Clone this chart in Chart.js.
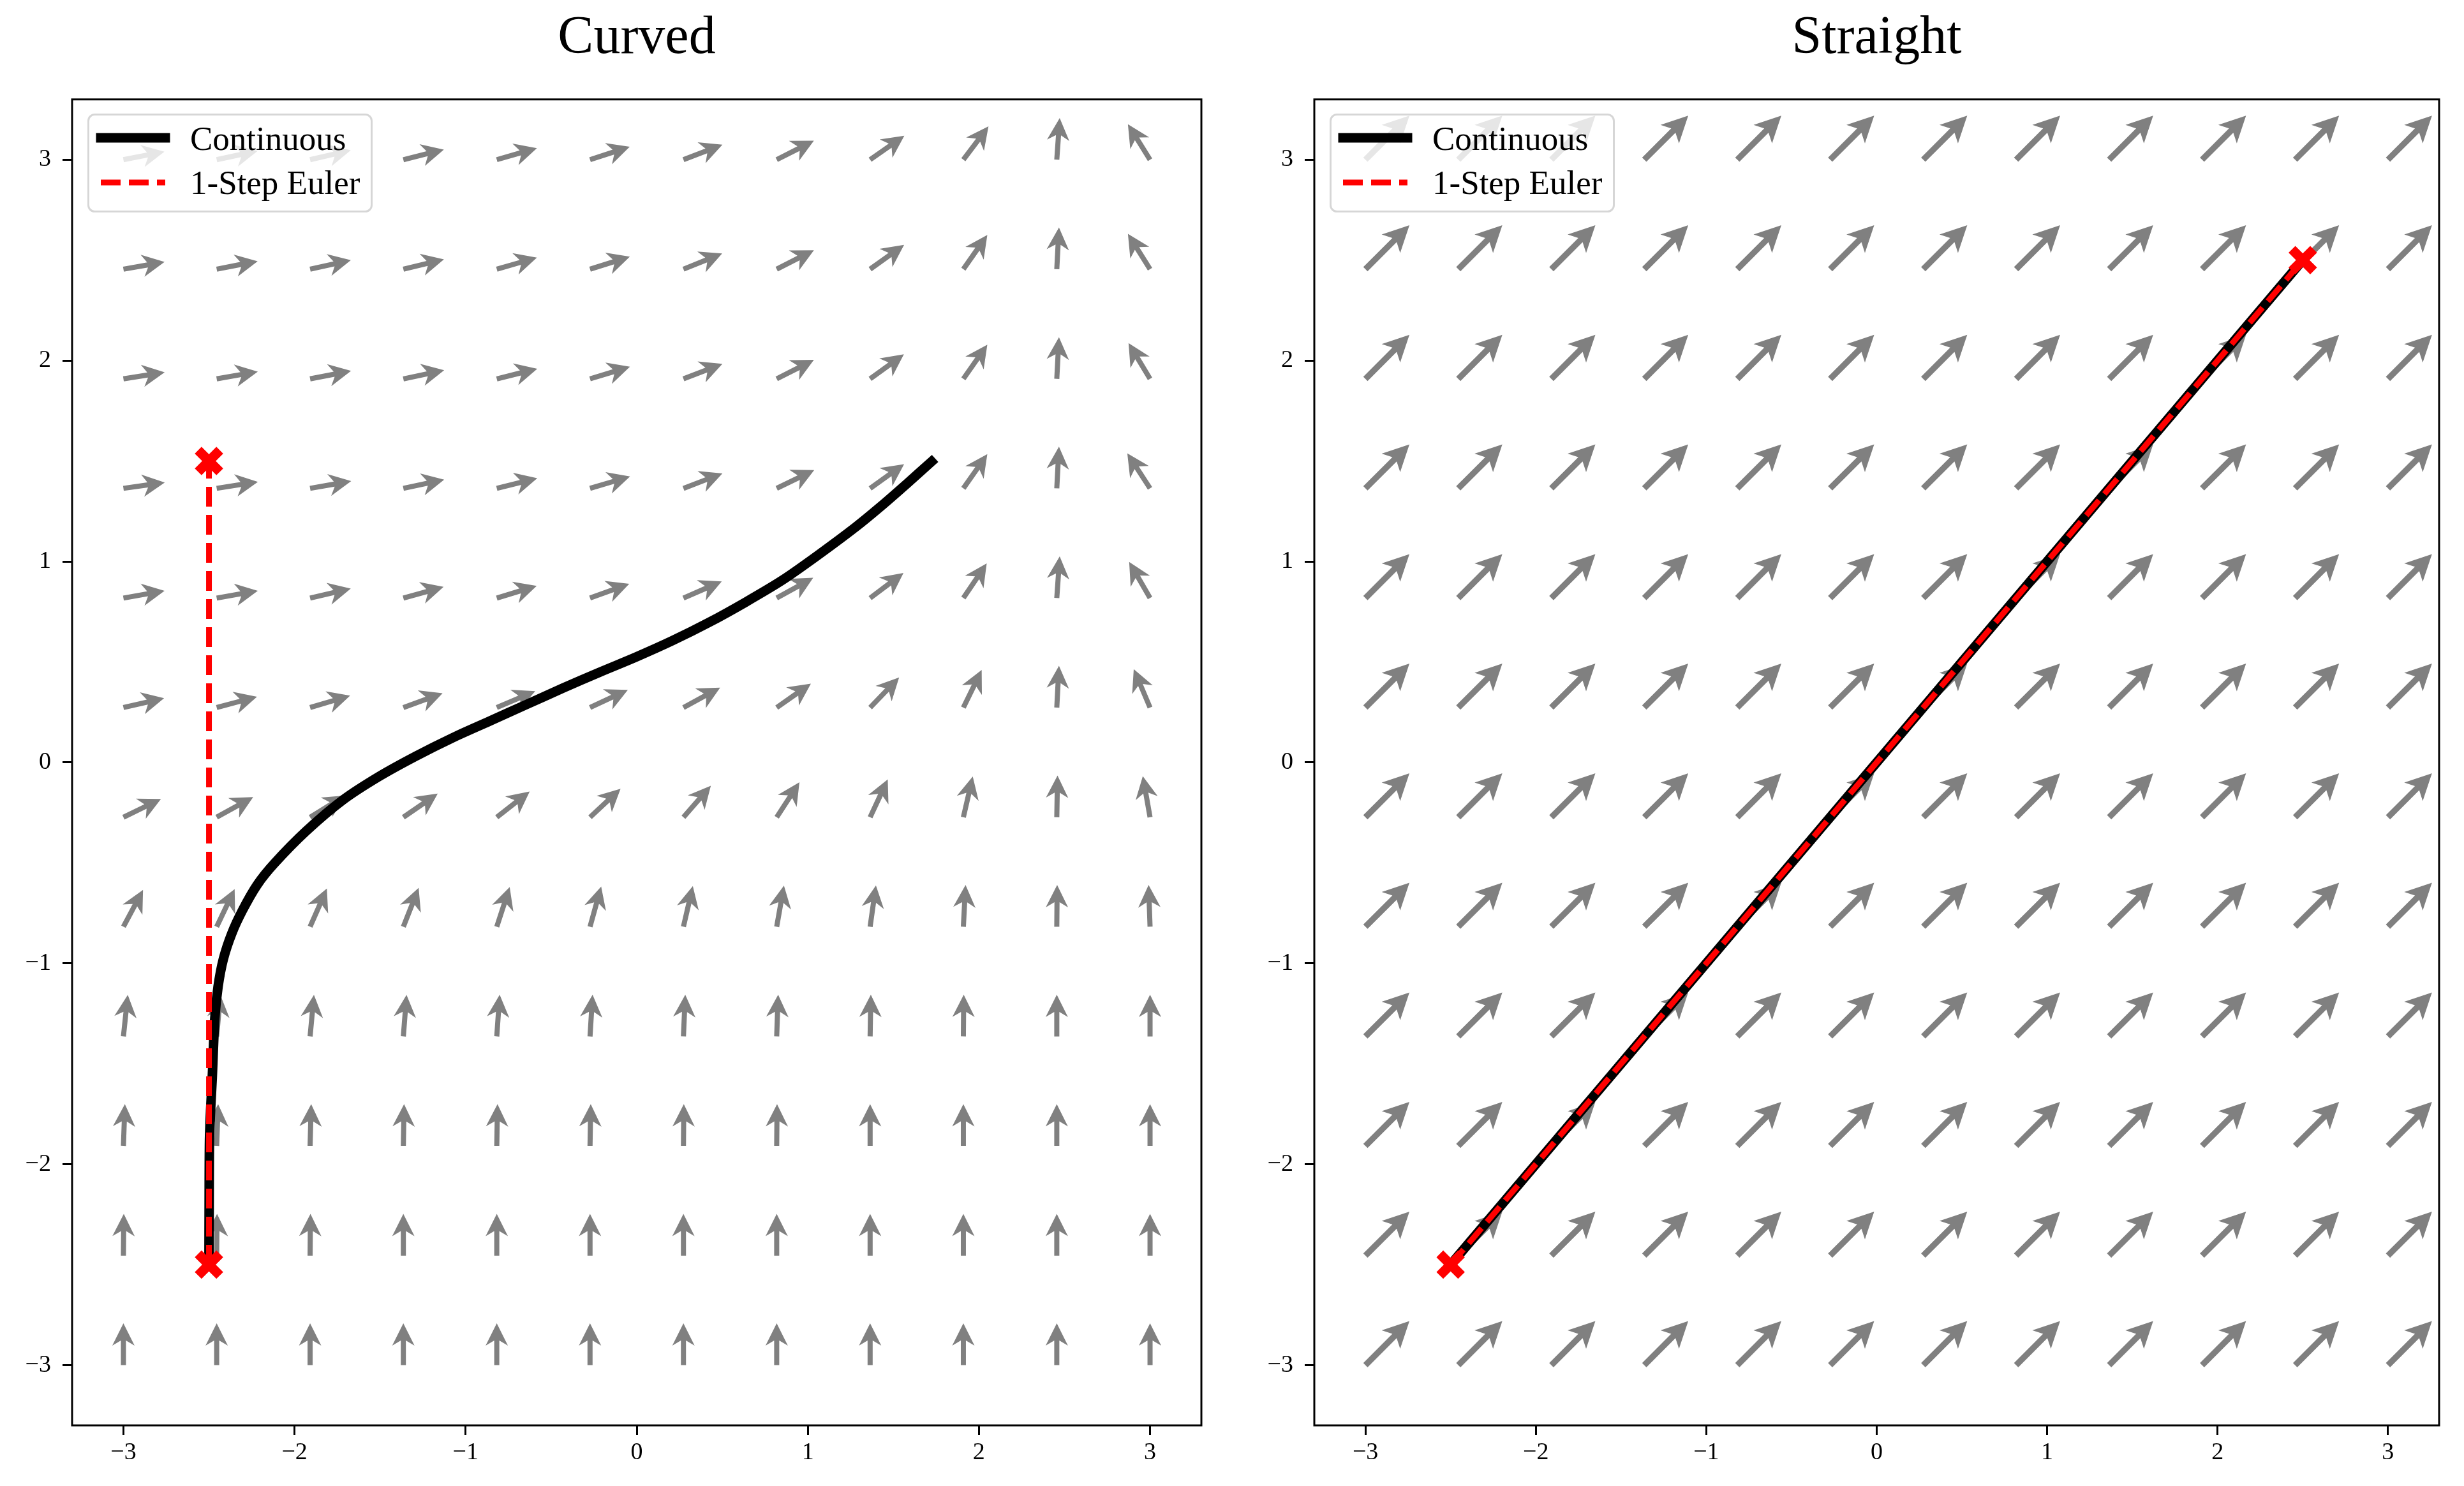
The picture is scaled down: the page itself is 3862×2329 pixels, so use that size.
<!DOCTYPE html>
<html lang="en">
  <head>
    <meta charset="UTF-8" />
    <title>Curved vs Straight</title>
    <script src="https://cdn.jsdelivr.net/npm/chart.js"></script>
    <style>
      body {
        margin: 0;
        background: #fff;
      }
      .figure {
        position: relative;
        width: 3862px;
        height: 2329px;
        overflow: hidden;
        background: #fff;
      }
      .panel {
        position: absolute;
        top: 0;
        width: 1931px;
        height: 2329px;
      }
      .legend {
        position: absolute;
        pointer-events: none;
      }
    </style>
  </head>
  <body>
    <div class="figure">
      <div class="panel" id="panelCurved" style="left: 0">
        <canvas id="curved" width="1931" height="2329"></canvas>
      </div>
      <div class="panel" id="panelStraight" style="left: 1931px">
        <canvas id="straight" width="1931" height="2329"></canvas>
      </div>
    </div>

    <script>
      // axis ticks
      const tickValues = [-3, -2, -1, 0, 1, 2, 3];
      const tickLabels = ["−3", "−2", "−1", "0", "1", "2", "3"];

      // quiver grid (same for both panels)
      const gridX = [-3, -2.455, -1.909, -1.364, -0.818, -0.273, 0.273, 0.818, 1.364, 1.909, 2.455, 3];
      const gridY = [-3, -2.455, -1.909, -1.364, -0.818, -0.273, 0.273, 0.818, 1.364, 1.909, 2.455, 3];

      // arrow directions of the curved field in degrees, bottom row (y = -3) first
      const curvedAngles = [
        [90, 90, 90, 90, 90, 90, 90, 90, 90, 90, 90, 90],
        [89.5, 89.5, 89.5, 90, 90, 90, 90, 90, 90, 90, 90, 90],
        [88, 88, 88.5, 89, 89, 89, 89.5, 89.5, 90, 90, 90, 90],
        [84, 85, 84.7, 85.6, 86, 86.5, 87.5, 88, 89, 89.5, 90, 90],
        [62, 64.5, 66.3, 68.5, 72, 74.5, 77, 80, 82, 87, 89.5, 92],
        [26, 29, 31.5, 34.5, 38, 43, 49, 57, 65, 77, 89, 100],
        [13, 15, 16.5, 20, 23, 25, 28.5, 35, 46, 64, 87, 113],
        [10, 10, 13, 15.5, 17, 20, 23.5, 29, 37, 56, 86, 120],
        [8, 9, 10, 12, 14, 16.5, 21, 26, 35.5, 55, 87, 123],
        [9, 10, 11, 12, 14, 17, 21, 27, 36, 55, 87, 121],
        [10, 11, 12.5, 13.5, 16, 17.5, 22, 27, 35.5, 55, 87, 122],
        [11, 12, 13, 14, 16, 18, 21, 27, 35, 53, 86, 122],
      ];
      // the straight field points the same way everywhere
      const straightAngle = 45;

      // continuous trajectory of the curved flow
      const curveX = [-2.5, -2.499, -2.497, -2.49, -2.481, -2.466, -2.447, -2.416, -2.367, -2.304, -2.218, -2.118, -1.932, -1.717, -1.504, -1.289, -1.075, -0.861, -0.647, -0.433, -0.219, -0.005, 0.209, 0.423, 0.637, 0.851, 1.065, 1.279, 1.425, 1.58, 1.723];
      const curveY = [-2.5, -2.2, -1.88, -1.72, -1.572, -1.276, -1.117, -0.979, -0.852, -0.736, -0.609, -0.503, -0.342, -0.187, -0.069, 0.032, 0.123, 0.205, 0.287, 0.369, 0.448, 0.524, 0.606, 0.697, 0.798, 0.907, 1.035, 1.171, 1.273, 1.388, 1.497];
      // one Euler step on the curved flow
      const curvedEulerX = [-2.5, -2.5];
      const curvedEulerY = [-2.5, 1.5];
      // straight flow: trajectory and Euler step coincide
      const straightX = [-2.5, 2.5];
      const straightY = [-2.5, 2.5];

      Chart.defaults.font.family = "'Liberation Serif', 'DejaVu Serif', serif";
      Chart.defaults.color = "#000";

      const toPoints = (xs, ys) => xs.map((x, i) => ({ x: x, y: ys[i] }));

      // quiver: arrows drawn from the tail, direction in screen space
      function quiverPlugin(field) {
        return {
          id: "quiver",
          beforeDatasetsDraw(chart) {
            const { ctx, chartArea } = chart;
            const xs = chart.scales.x;
            const ys = chart.scales.y;
            const len = xs.getPixelForValue(field.length) - xs.getPixelForValue(0);
            const s = field.shaft / 2;
            const h = field.headWidth / 2;
            ctx.save();
            ctx.beginPath();
            ctx.rect(chartArea.left, chartArea.top, chartArea.width, chartArea.height);
            ctx.clip();
            ctx.fillStyle = "#808080";
            gridY.forEach((gy, i) => {
              gridX.forEach((gx, j) => {
                const a = (field.angle(i, j) * Math.PI) / 180;
                ctx.save();
                ctx.translate(xs.getPixelForValue(gx), ys.getPixelForValue(gy));
                ctx.rotate(-a);
                ctx.beginPath();
                ctx.moveTo(0, -s);
                ctx.lineTo(len - field.headAxis, -s);
                ctx.lineTo(len - field.headLength, -h);
                ctx.lineTo(len, 0);
                ctx.lineTo(len - field.headLength, h);
                ctx.lineTo(len - field.headAxis, s);
                ctx.lineTo(0, s);
                ctx.closePath();
                ctx.fill();
                ctx.restore();
              });
            });
            ctx.restore();
          },
        };
      }

      // full box round the plot area
      const framePlugin = {
        id: "frame",
        afterDraw(chart) {
          const { ctx, chartArea } = chart;
          ctx.save();
          ctx.strokeStyle = "#000";
          ctx.lineWidth = 3;
          ctx.strokeRect(chartArea.left, chartArea.top, chartArea.width, chartArea.height);
          ctx.restore();
        },
      };

      function axis(isX, size, pad) {
        return {
          type: "linear",
          min: -3.3,
          max: 3.3,
          afterBuildTicks: (scale) => {
            scale.ticks = tickValues.map((v) => ({ value: v }));
          },
          afterFit: (scale) => {
            if (isX) scale.height = size;
            else scale.width = size;
          },
          ticks: {
            autoSkip: false,
            maxRotation: 0,
            padding: pad,
            color: "#000",
            font: { size: 38 },
            callback: (v) => tickLabels[tickValues.indexOf(v)],
          },
          grid: {
            drawOnChartArea: false,
            drawTicks: true,
            tickLength: 15,
            tickWidth: 3,
            tickColor: "#000",
          },
          border: { display: false },
        };
      }

      function makePanel(canvasId, title, line, euler, field, yAxisWidth, rightPad) {
        const markers = [euler[0], euler[euler.length - 1]];
        return new Chart(document.getElementById(canvasId), {
          type: "scatter",
          data: {
            datasets: [
              {
                label: "endpoints",
                data: markers,
                showLine: false,
                pointStyle: "crossRot",
                pointRadius: 24,
                pointHoverRadius: 24,
                pointBorderWidth: 15,
                pointBorderColor: "#ff0000",
                pointBackgroundColor: "#ff0000",
              },
              {
                label: "1-Step Euler",
                data: euler,
                showLine: true,
                borderColor: "#ff0000",
                borderWidth: 9,
                borderDash: [31, 13],
                borderCapStyle: "butt",
                pointRadius: 0,
                pointHoverRadius: 0,
              },
              {
                label: "Continuous",
                data: line,
                showLine: true,
                borderColor: "#000",
                borderWidth: 15,
                borderCapStyle: "square",
                borderJoinStyle: "round",
                tension: 0.3,
                pointRadius: 0,
                pointHoverRadius: 0,
              },
            ],
          },
          options: {
            responsive: false,
            animation: false,
            events: [],
            layout: { padding: { left: 0, right: rightPad, top: 0, bottom: 0 } },
            scales: {
              x: axis(true, 95, 5),
              y: axis(false, yAxisWidth, 18),
            },
            plugins: {
              legend: { display: false },
              tooltip: { enabled: false },
              title: {
                display: true,
                text: title,
                fullSize: false,
                color: "#000",
                font: { size: 84, weight: "normal", lineHeight: 1.2 },
                padding: { top: 11, bottom: 44 },
              },
            },
          },
          plugins: [quiverPlugin(field), framePlugin],
        });
      }

      // legend box drawn over the top-left corner of the plot area
      function addLegend(chart, holderId) {
        const NS = "http://www.w3.org/2000/svg";
        const area = chart.chartArea;
        const [, euler, cont] = chart.data.datasets;
        const svg = document.createElementNS(NS, "svg");
        svg.setAttribute("class", "legend");
        svg.setAttribute("width", 447);
        svg.setAttribute("height", 155);
        svg.style.left = area.left + 24 + "px";
        svg.style.top = area.top + 22 + "px";
        const el = (tag, attrs, text) => {
          const n = document.createElementNS(NS, tag);
          Object.entries(attrs).forEach(([k, v]) => n.setAttribute(k, v));
          if (text) n.textContent = text;
          svg.appendChild(n);
        };
        el("rect", {
          x: 1.5, y: 1.5, width: 444, height: 152, rx: 10,
          fill: "rgba(255,255,255,0.8)", stroke: "rgba(204,204,204,0.8)", "stroke-width": 3,
        });
        el("line", {
          x1: 21, x2: 122, y1: 38, y2: 38,
          stroke: cont.borderColor, "stroke-width": cont.borderWidth, "stroke-linecap": "square",
        });
        el("line", {
          x1: 21, x2: 122, y1: 108, y2: 108,
          stroke: euler.borderColor, "stroke-width": euler.borderWidth,
          "stroke-dasharray": euler.borderDash.join(" "),
        });
        const font = { "font-family": "Liberation Serif, serif", "font-size": 53, fill: "#000" };
        el("text", Object.assign({ x: 161, y: 57 }, font), cont.label);
        el("text", Object.assign({ x: 161, y: 126 }, font), euler.label);
        document.getElementById(holderId).appendChild(svg);
      }

      const curvedChart = makePanel(
        "curved",
        "Curved",
        toPoints(curveX, curveY),
        toPoints(curvedEulerX, curvedEulerY),
        {
          angle: (i, j) => curvedAngles[i][j],
          length: 0.244,
          shaft: 8,
          headWidth: 35,
          headLength: 35,
          headAxis: 27,
        },
        113,
        48
      );

      const straightChart = makePanel(
        "straight",
        "Straight",
        toPoints(straightX, straightY),
        toPoints(straightX, straightY),
        {
          angle: () => straightAngle,
          length: 0.365,
          shaft: 9.5,
          headWidth: 41,
          headLength: 41,
          headAxis: 33,
        },
        129,
        31
      );

      addLegend(curvedChart, "panelCurved");
      addLegend(straightChart, "panelStraight");
    </script>
  </body>
</html>
